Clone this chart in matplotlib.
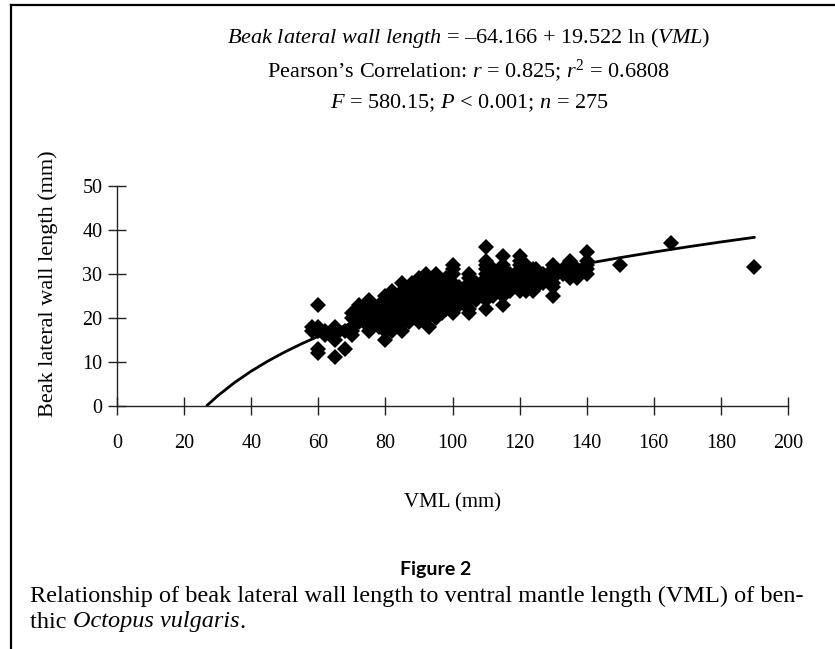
import numpy as np
import matplotlib
matplotlib.use("Agg")
import matplotlib.pyplot as plt
from matplotlib.lines import Line2D

plt.rcParams["mathtext.fontset"] = "custom"
plt.rcParams["mathtext.rm"] = "Liberation Serif"
plt.rcParams["mathtext.it"] = "Liberation Serif:italic"
plt.rcParams["mathtext.bf"] = "Liberation Serif:bold"

# Regression coefficients printed on the chart
intercept = -64.166
slope = 19.522

# Observations: VML (mm) and beak lateral wall length (mm)
vml = [
    58, 58,
    60, 60, 60, 60, 60,
    62, 62,
    65, 65, 65, 65,
    68, 68,
    70, 70, 70, 70, 70,
    72, 72, 72, 72,
    75, 75, 75, 75, 75, 75, 75, 75,
    78, 78, 78, 78, 78, 78,
    80, 80, 80, 80, 80, 80, 80, 80, 80, 80,
    82, 82, 82, 82, 82, 82, 82, 82, 82,
    84, 84, 84, 84, 84, 84, 84,
    85, 85, 85, 85, 85, 85, 85, 85, 85, 85,
    87, 87, 87, 87, 87, 87, 87,
    88, 88, 88, 88, 88, 88,
    90, 90, 90, 90, 90, 90, 90, 90, 90, 90,
    92, 92, 92, 92, 92, 92, 92, 92,
    93, 93, 93, 93, 93,
    95, 95, 95, 95, 95, 95, 95, 95, 95, 95,
    97, 97, 97, 97, 97,
    98, 98, 98, 98, 98,
    100, 100, 100, 100, 100, 100, 100, 100, 100, 100, 100,
    102, 102, 102,
    105, 105, 105, 105, 105, 105, 105, 105, 105,
    107, 107, 107,
    110, 110, 110, 110, 110, 110, 110, 110, 110, 110, 110, 110,
    112, 112, 112, 112,
    115, 115, 115, 115, 115, 115, 115, 115, 115, 115,
    117, 117, 117,
    120, 120, 120, 120, 120, 120, 120, 120, 120,
    122, 122, 122, 122,
    124, 124, 124, 124,
    125, 125, 125, 125, 125,
    127, 127,
    130, 130, 130, 130, 130, 130, 130,
    133, 133,
    135, 135, 135, 135, 135,
    137, 137, 137,
    140, 140, 140, 140, 140,
    150, 165, 190,
]
beak = [
    17, 18,
    23, 18, 17, 13, 12,
    16, 17,
    18, 16, 11, 15,
    13, 17,
    16, 17, 18, 20, 21,
    19, 21, 23, 22,
    17, 18, 19, 20, 21, 22, 23, 24,
    18, 19, 20, 21, 22, 23,
    15, 17, 18, 19, 20, 21, 22, 23, 24, 25,
    17, 18, 19, 20, 21, 22, 23, 24, 26,
    18, 19, 20, 21, 22, 23, 25,
    17, 19, 20, 21, 22, 23, 24, 25, 26, 28,
    19, 20, 21, 22, 24, 26, 27,
    20, 21, 22, 23, 25, 28,
    19, 20, 21, 22, 23, 24, 25, 26, 27, 29,
    20, 22, 23, 24, 25, 26, 28, 30,
    18, 21, 23, 27, 29,
    20, 21, 22, 23, 24, 25, 26, 27, 28, 30,
    21, 23, 24, 26, 27,
    22, 24, 25, 28, 29,
    21, 22, 23, 24, 25, 26, 27, 28, 30, 31, 32,
    23, 25, 27,
    21, 22, 24, 25, 26, 27, 28, 29, 30,
    24, 26, 28,
    22, 24, 25, 26, 27, 28, 29, 30, 31, 32, 33, 36,
    25, 27, 29, 31,
    23, 25, 26, 27, 28, 29, 30, 31, 32, 34,
    26, 28, 30,
    26, 27, 28, 29, 30, 31, 32, 33, 34,
    26, 28, 30, 32,
    26, 27, 29, 31,
    27, 28, 29, 30, 31,
    28, 30,
    25, 27, 28, 29, 30, 31, 32,
    30, 31,
    29, 30, 31, 32, 33,
    29, 30, 31,
    30, 31, 32, 33, 35,
    32, 37, 31.5,
]

# Fitted curve sample points (VML range)
curve_vml = [26.8, 30, 35, 40, 45, 50, 55, 60, 70, 80, 90, 100, 110, 120,
             130, 140, 150, 160, 170, 180, 190]

x_ticks = [0, 20, 40, 60, 80, 100, 120, 140, 160, 180, 200]
y_ticks = [0, 10, 20, 30, 40, 50]

W, H = 835, 649
fig = plt.figure(figsize=(W / 100, H / 100), dpi=100)
serif = ["Liberation Serif", "DejaVu Serif"]

ax = fig.add_axes([117 / W, 1 - 405.7 / H, 671 / W, 220 / H])
ax.set_xlim(0, 200)
ax.set_ylim(0, 50)
for s in ["top", "right"]:
    ax.spines[s].set_visible(False)
for s in ["left", "bottom"]:
    ax.spines[s].set_linewidth(1.0)
    ax.spines[s].set_color("#222222")

cx = np.array(curve_vml)
cy = intercept + slope * np.log(cx)
ax.plot(cx, cy, color="black", lw=2.0, zorder=2, solid_capstyle="round")
ax.plot(vml, beak, linestyle="none", marker="D", markersize=8,
        color="black", markeredgewidth=0, zorder=3)

ax.set_xticks(x_ticks)
ax.set_yticks(y_ticks)
ax.tick_params(axis="both", direction="inout", length=13, width=1.0,
               color="#222222", labelsize=14.5)
ax.tick_params(axis="x", pad=14)
ax.tick_params(axis="y", pad=4)
for lab in ax.get_xticklabels() + ax.get_yticklabels():
    lab.set_family(serif)

fig.text(453 / W, 1 - 503 / H, "VML (mm)", ha="center", va="center",
         fontsize=15, family=serif)
fig.text(48 / W, 1 - 284 / H, "Beak lateral wall length (mm)", ha="center",
         va="center", rotation=90, fontsize=16, family=serif)

# Header equation text
hx = 469 / W
hfs = 16
fig.text(hx, 1 - 38 / H,
         r"$\it{Beak\ lateral\ wall\ length}$ = –64.166 + 19.522 ln ($\it{VML}$)",
         ha="center", va="center", fontsize=hfs, family=serif)
fig.text(hx, 1 - 71 / H,
         r"Pearson’s Correlation: $\it{r}$ = 0.825; $\it{r}^{2}$ = 0.6808",
         ha="center", va="center", fontsize=hfs, family=serif)
fig.text(hx, 1 - 103 / H,
         r"$\it{F}$ = 580.15; $\it{P}$ < 0.001; $\it{n}$ = 275",
         ha="center", va="center", fontsize=hfs, family=serif)

fig.text(436 / W, 1 - 569 / H, "Figure 2", ha="center", va="center",
         fontsize=14, fontweight="bold", family=["Lato", "DejaVu Sans"])
cap_fs = 17.5
fig.text(30 / W, 1 - 596 / H,
         "Relationship of beak lateral wall length to ventral mantle length (VML) of ben-",
         ha="left", va="center", fontsize=cap_fs, family=serif)

renderer = fig.canvas.get_renderer()
xpos = 30
for piece, sty in [("thic ", "normal"), ("Octopus vulgaris", "italic"), (".", "normal")]:
    t = fig.text(xpos / W, 1 - 622 / H, piece, ha="left", va="center",
                 fontsize=cap_fs, family=serif, style=sty)
    xpos += t.get_window_extent(renderer).width

# Frame lines (top and left)
fig.add_artist(Line2D([11 / W, 1.0], [1 - 5 / H, 1 - 5 / H],
                      transform=fig.transFigure, color="black", lw=1.6))
fig.add_artist(Line2D([11 / W, 11 / W], [1 - 5 / H, 0.0],
                      transform=fig.transFigure, color="black", lw=1.6))

fig.savefig("out.png", dpi=100)
